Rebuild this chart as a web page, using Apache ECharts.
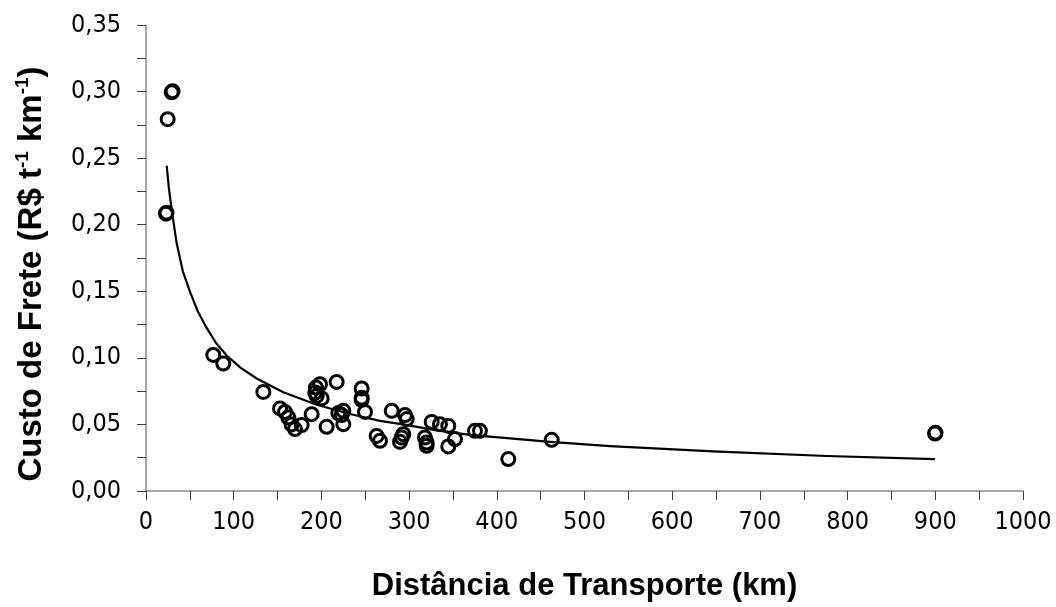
<!DOCTYPE html>
<html>
<head>
<meta charset="utf-8">
<script src="https://cdn.jsdelivr.net/npm/echarts@6/dist/echarts.min.js"></script>
<style>
  html, body { margin: 0; padding: 0; background: #fff; }
  #chart { width: 1056px; height: 607px; }
</style>
</head>
<body>
<div id="chart"></div>
<script>
// Observed freight cost per distance (one entry per shipment)
const distKm = [
  29.3, 30.3, 24.7, 22.8, 23.4, 76.7, 88.1, 133.8, 152.8, 158.5,
  162.3, 169.9, 177.5, 188.9, 166.0, 193.8, 198.4, 194.6, 200.3, 193.0,
  217.4, 206.0, 219.3, 225.0, 223.1, 225.0, 245.9, 245.9, 245.9, 249.7,
  263.0, 266.8, 280.2, 295.3, 297.3, 291.5, 289.6, 293.4, 318.1, 320.0,
  320.0, 325.8, 335.2, 344.7, 344.7, 352.3, 375.1, 380.8, 462.6, 413.1,
  899.7, 900.3
];
const custoFrete = [
  0.2995, 0.3003, 0.2793, 0.2083, 0.2090, 0.1022, 0.0957, 0.0744, 0.0620, 0.0594,
  0.0552, 0.0465, 0.0495, 0.0577, 0.0500, 0.0777, 0.0802, 0.0714, 0.0695, 0.0740,
  0.0819, 0.0482, 0.0585, 0.0602, 0.0570, 0.0502, 0.0770, 0.0700, 0.0685, 0.0594,
  0.0414, 0.0377, 0.0602, 0.0570, 0.0540, 0.0402, 0.0369, 0.0427, 0.0402, 0.0365,
  0.0340, 0.0519, 0.0502, 0.0489, 0.0335, 0.0390, 0.0452, 0.0452, 0.0384, 0.0240,
  0.0432, 0.0437
];

// Fitted trend curve, sampled along the distance range
const curveKm = [23.6, 26.0, 29.3, 35.0, 42.0, 50.2, 59.0, 69.2, 80.0, 92.0, 108.0, 126.2, 156.6, 194.6, 232.6,
  266.8, 293.0, 331.5, 369.4, 392.2, 460.7, 529.1, 646.5, 776.2, 899.7];
const curveCusto = [0.2443, 0.2280, 0.2110, 0.1860, 0.1650, 0.1495, 0.1350, 0.1225, 0.1110, 0.1018, 0.0925, 0.0845, 0.0742, 0.0648, 0.0578,
  0.0527, 0.0500, 0.0455, 0.0422, 0.0408, 0.0369, 0.0337, 0.0297, 0.0263, 0.0240];

const xTicks = { min: 0, max: 1000, step: 100 };
const yTicks = { min: 0, max: 0.35, step: 0.05 };

const tickFont = '"DejaVu Sans Condensed", "DejaVu Sans", sans-serif';
const titleFont = '"Liberation Sans", Arial, sans-serif';

const pts = distKm.map((d, i) => [d, custoFrete[i]]);
const curve = curveKm.map((d, i) => [d, curveCusto[i]]);

const axisLineStyle = { color: '#8a8a8a', width: 1.5 };
const tickLineStyle = { color: '#404040', width: 1 };

const chart = echarts.init(document.getElementById('chart'), null, { renderer: 'canvas' });
chart.setOption({
  backgroundColor: '#ffffff',
  animation: false,
  grid: { left: 146, right: 33, top: 25, bottom: 115, containLabel: false },
  xAxis: {
    type: 'value',
    min: xTicks.min, max: xTicks.max, interval: xTicks.step,
    name: 'Distância de Transporte (km)',
    nameLocation: 'middle',
    nameGap: 80,
    nameTextStyle: { fontFamily: titleFont, fontWeight: 'bold', fontSize: 31, color: '#000' },
    axisLine: { show: true, onZero: false, lineStyle: axisLineStyle },
    axisTick: { show: true, inside: false, length: 9, lineStyle: tickLineStyle },
    minorTick: { show: true, splitNumber: 2, length: 9, lineStyle: tickLineStyle },
    splitLine: { show: false },
    axisLabel: {
      margin: 19, fontFamily: tickFont, fontSize: 25, color: '#000',
      formatter: v => String(v)
    }
  },
  yAxis: {
    type: 'value',
    min: yTicks.min, max: yTicks.max, interval: yTicks.step,
    name: '{b|Custo de Frete (R$ t}{s|-1}{b| km}{s|-1}{b|)}',
    nameLocation: 'middle',
    nameGap: 96,
    nameRotate: 90,
    nameTextStyle: {
      fontFamily: titleFont, fontWeight: 'bold', fontSize: 33, color: '#000',
      padding: [0, 32, 0, 0],
      rich: {
        b: { fontFamily: titleFont, fontWeight: 'bold', fontSize: 33, color: '#000', lineHeight: 37 },
        s: { fontFamily: titleFont, fontWeight: 'bold', fontSize: 19, color: '#000', verticalAlign: 'top' }
      }
    },
    axisLine: { show: true, onZero: false, lineStyle: axisLineStyle },
    axisTick: { show: true, inside: false, length: 9, lineStyle: tickLineStyle },
    minorTick: { show: true, splitNumber: 2, length: 9, lineStyle: tickLineStyle },
    splitLine: { show: false },
    axisLabel: {
      margin: 25, fontFamily: tickFont, fontSize: 25, color: '#000',
      formatter: v => v.toFixed(2).replace('.', ',')
    }
  },
  series: [
    {
      type: 'line',
      data: curve,
      smooth: false,
      showSymbol: false,
      symbol: 'none',
      lineStyle: { color: '#000', width: 2.2, join: 'round' },
      z: 2
    },
    {
      type: 'scatter',
      data: pts,
      symbol: 'circle',
      symbolSize: 13,
      itemStyle: { color: 'rgba(255,255,255,0)', borderColor: '#000', borderWidth: 3, opacity: 1 },
      z: 3
    }
  ]
});
</script>
</body>
</html>
